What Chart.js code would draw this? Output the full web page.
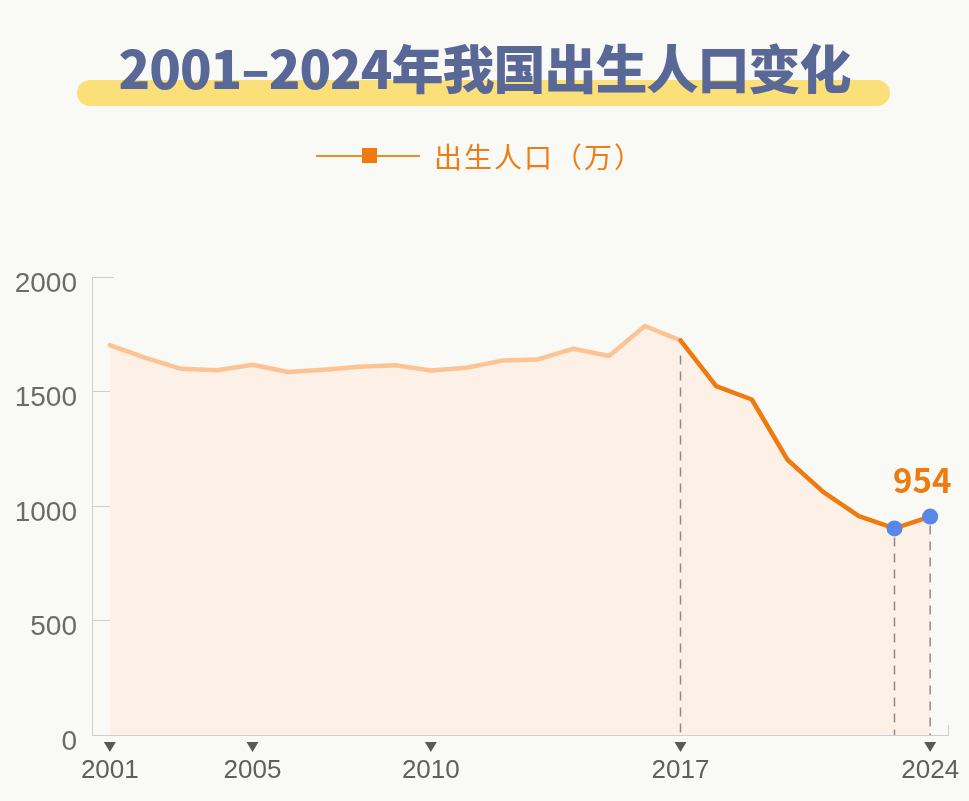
<!DOCTYPE html>
<html lang="zh">
<head>
<meta charset="utf-8">
<title>2001-2024年我国出生人口变化</title>
<script src="https://cdn.jsdelivr.net/npm/chart.js@4"></script>
<style>
    html, body { margin:0; padding:0; background:#f9f9f6; }
    #wrap { position:relative; width:969px; height:801px; overflow:hidden; }
    #title-bar { position:absolute; left:77px; top:80px; width:813px; height:26px; border-radius:13px; background:#fbdf78; }
    #title { position:absolute; left:0; top:32px; width:969px; text-align:center; font-family:"Noto Sans CJK SC", sans-serif; font-weight:900; font-size:52px; line-height:70px; color:#5a6897; letter-spacing:-1px; }
    #legend { position:absolute; left:316px; top:136px; height:40px; display:flex; align-items:center; }
    #legend .ln { position:relative; width:104px; height:2px; background:#f08a26; }
    #legend .sq { position:absolute; left:46px; top:-7px; width:15px; height:15px; background:#ee7a10; }
    #legend span { margin-left:14px; font-family:"Noto Sans CJK SC", sans-serif; font-size:28px; letter-spacing:2px; color:#ee7d18; }
    #chart-box { position:absolute; left:0; top:0; width:969px; height:801px; }
</style>
</head>
<body>
<div id="wrap">
    <div id="chart-box"><canvas id="chart-births"></canvas></div>
    <div id="title-bar"></div>
    <div id="title">2001–2024年我国出生人口变化</div>
    <div id="legend"><div class="ln"><div class="sq"></div></div><span>出生人口（万）</span></div>
</div>
<script>
// 出生人口（万）2001-2024
const YEARS = ['2001','2002','2003','2004','2005','2006','2007','2008','2009','2010','2011','2012',
               '2013','2014','2015','2016','2017','2018','2019','2020','2021','2022','2023','2024'];
const BIRTHS = [1702, 1647, 1599, 1593, 1617, 1585, 1595, 1608, 1615, 1592, 1604, 1635,
                1640, 1687, 1655, 1786, 1723, 1523, 1465, 1202, 1062, 956, 902, 954];
const LABELED_YEARS = ['2001','2005','2010','2017','2024'];
const DASHED_YEARS = ['2017','2023','2024'];
const DOT_YEARS = ['2023','2024'];
const Y_TICKS = [0, 500, 1000, 1500, 2000];
const CALLOUT_YEAR = '2024';

const splitIdx = YEARS.indexOf('2017');

// dashed drop lines, axis triangles and the 954 callout
const decorPlugin = {
    id: 'decor',
    afterDatasetsDraw(chart) {
        const ctx = chart.ctx;
        const x = chart.scales.x;
        const meta = chart.getDatasetMeta(0);
        ctx.save();
        ctx.strokeStyle = '#8c8c8c';
        ctx.lineWidth = 1.5;
        ctx.setLineDash([9, 7]);
        DASHED_YEARS.forEach(yr => {
            const pt = meta.data[YEARS.indexOf(yr)];
            ctx.beginPath();
            ctx.moveTo(pt.x, pt.y + (DOT_YEARS.includes(yr) ? 9 : 15));
            ctx.lineTo(pt.x, x.top);
            ctx.stroke();
        });
        ctx.setLineDash([]);
        // dots on top of the dashes
        DOT_YEARS.forEach(yr => {
            const pt = meta.data[YEARS.indexOf(yr)];
            ctx.beginPath();
            ctx.fillStyle = '#5886e9';
            ctx.arc(pt.x, pt.y, 8, 0, Math.PI * 2);
            ctx.fill();
        });
        // triangles under the labelled years
        ctx.fillStyle = '#5a5a5a';
        LABELED_YEARS.forEach(yr => {
            const px = x.getPixelForValue(YEARS.indexOf(yr));
            const ty = x.top + 7;
            ctx.beginPath();
            ctx.moveTo(px - 6, ty);
            ctx.lineTo(px + 6, ty);
            ctx.lineTo(px, ty + 10);
            ctx.closePath();
            ctx.fill();
        });
        // callout value
        const ci = YEARS.indexOf(CALLOUT_YEAR);
        const cp = meta.data[ci];
        ctx.fillStyle = '#ee7a10';
        ctx.font = 'bold 33px "Noto Sans CJK SC", sans-serif';
        ctx.textAlign = 'center';
        ctx.textBaseline = 'alphabetic';
        ctx.fillText(String(BIRTHS[ci]), cp.x - 8, cp.y - 24);
        ctx.restore();
    }
};

new Chart(document.getElementById('chart-births'), {
    type: 'line',
    data: {
        labels: YEARS,
        datasets: [{
            label: '出生人口（万）',
            data: BIRTHS,
            borderColor: '#fcc394',
            borderWidth: 4.5,
            borderJoinStyle: 'round',
            borderCapStyle: 'round',
            tension: 0,
            fill: 'origin',
            backgroundColor: '#fdf0e6',
            pointRadius: 0,
            pointHoverRadius: 0,
            segment: {
                borderColor: c => c.p0DataIndex >= splitIdx ? '#ee7a10' : undefined
            }
        }]
    },
    options: {
        responsive: true,
        maintainAspectRatio: false,
        animation: false,
        layout: { padding: { top: 277, bottom: 15, left: 13, right: 21 } },
        plugins: { legend: { display: false }, tooltip: { enabled: false } },
        scales: {
            x: {
                offset: true,
                border: { color: '#cfcfcf', width: 1 },
                grid: { offset: true, drawOnChartArea: false, tickLength: -10, color: '#cfcfcf' },
                ticks: {
                    autoSkip: false, maxRotation: 0, padding: 30,
                    color: '#5f5f5f',
                    font: { family: '"Liberation Sans", Arial, sans-serif', size: 26 },
                    callback: (v, i) => LABELED_YEARS.includes(YEARS[i]) ? YEARS[i] : ''
                },
                afterFit: s => { s.height = 51; s.paddingLeft = 0; s.paddingRight = 0; }
            },
            y: {
                min: Y_TICKS[0],
                max: Y_TICKS[Y_TICKS.length - 1],
                afterBuildTicks: s => { s.ticks = Y_TICKS.map(v => ({ value: v })); },
                border: { color: '#cfcfcf', width: 1 },
                grid: { drawOnChartArea: false, tickLength: -22, color: '#cfcfcf' },
                ticks: {
                    padding: 37,
                    labelOffset: 7,
                    color: '#6b6b6b',
                    font: { family: '"Liberation Sans", Arial, sans-serif', size: 28 },
                    callback: v => String(v)
                },
                afterFit: s => { s.width = 79; }
            }
        }
    },
    plugins: [decorPlugin]
});
</script>
</body>
</html>
